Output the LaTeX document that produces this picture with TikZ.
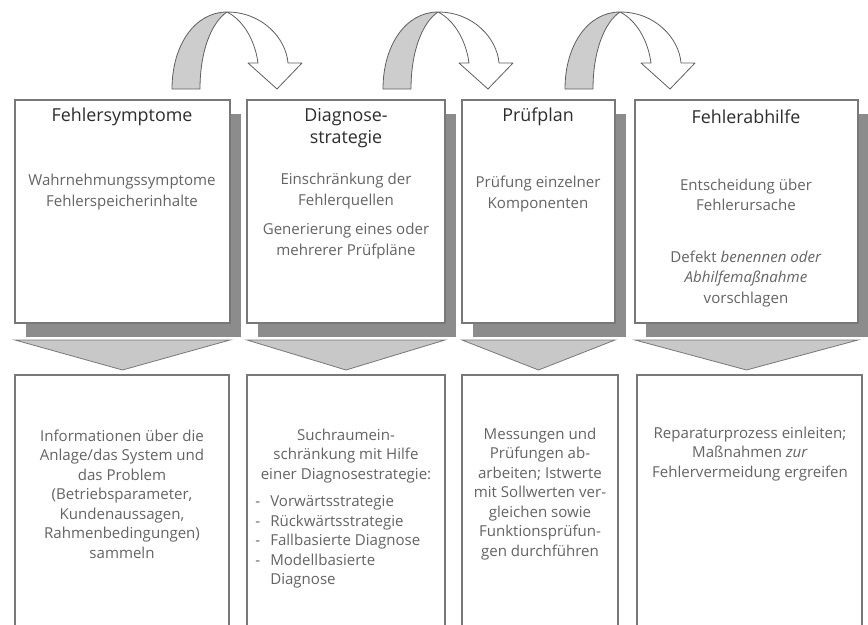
\documentclass[tikz,border=0pt]{standalone}
\usepackage{fontspec}
\setmainfont{Open Sans}
\usetikzlibrary{calc,shadows}

\definecolor{boxline}{RGB}{120,120,120}
\definecolor{shadowgray}{RGB}{140,140,140}
\definecolor{chevronfill}{RGB}{200,200,200}
\definecolor{arrowfill}{RGB}{205,205,205}
\definecolor{arrowline}{RGB}{95,95,95}
\definecolor{headcol}{RGB}{45,45,45}
\definecolor{textcol}{RGB}{100,100,100}

\newcommand{\listdash}{\makebox[11.25pt][l]{-}}

\tikzset{
  stagebox/.style={draw=boxline, fill=white, line width=0.8pt, anchor=north west, inner sep=0pt, outer sep=0pt},
  boxshadow/.style={drop shadow={shadow xshift=8.25pt, shadow yshift=-10.5pt, fill=shadowgray, opacity=1}},
  chevron/.style={draw=boxline, fill=chevronfill, line width=0.6pt},
  bendarrow/.style={draw=arrowline, line width=0.6pt, line join=round},
  headtext/.style={text=headcol, font=\fontsize{13.4}{17}\selectfont, align=center, inner sep=0pt},
  bodytext/.style={text=textcol, font=\fontsize{11.3}{15.5}\selectfont, align=center, inner sep=0pt},
  infotext/.style={text=textcol, font=\fontsize{11.3}{14.6}\selectfont, align=center, inner sep=0pt}
}

\begin{document}
\begin{tikzpicture}[x=0.75pt,y=0.75pt,yscale=-1,xscale=1]
        \path[use as bounding box, clip] (0,0) rectangle (868,625);

        % Bent arrows from stage to stage
        \foreach \dx in {0,211,393}{
          \begin{scope}[shift={(\dx,0)}]
            \draw[bendarrow, fill=arrowfill] (172,89) .. controls (172,45) and (195,12) .. (227,12) .. controls (212,22) and (200,50) .. (200,89) -- cycle;
            \draw[bendarrow, fill=white] (227,12) .. controls (262,12) and (286,38) .. (288,63) -- (302,63) -- (277,89) -- (248,63) -- (258,63) .. controls (255,40) and (243,20) .. (227,12) -- cycle;
          \end{scope}
        }

        % Stages
        \node[stagebox, boxshadow, minimum width=215*0.75pt, minimum height=223*0.75pt] (symptom) at (15,100) {};
        \node[stagebox, boxshadow, minimum width=198*0.75pt, minimum height=223*0.75pt] (strategy) at (247,100) {};
        \node[stagebox, boxshadow, minimum width=153*0.75pt, minimum height=223*0.75pt] (testplan) at (462,100) {};
        \node[stagebox, boxshadow, minimum width=223*0.75pt, minimum height=223*0.75pt] (remedy) at (635,100) {};

        % Chevrons below the stages
        \foreach \s in {symptom,strategy,testplan,remedy}
          \draw[chevron] ($(\s.south west)+(0,17)$) -- ($(\s.south east)+(0,17)$) -- ($(\s.south)+(0,47)$) -- cycle;

        % Activities
        \node[stagebox, minimum width=214*0.75pt, minimum height=265*0.75pt] (symptominfo) at (15,375) {};
        \node[stagebox, minimum width=198*0.75pt, minimum height=265*0.75pt] (strategyinfo) at (247,375) {};
        \node[stagebox, minimum width=156*0.75pt, minimum height=265*0.75pt] (testplaninfo) at (462,375) {};
        \node[stagebox, minimum width=225*0.75pt, minimum height=265*0.75pt] (remedyinfo) at (637,375) {};

        % Text Nodes
        \node[headtext] (symptomhead) at (122,117) {Fehlersymptome};
        \node[bodytext] (symptombody) at (122,192) {Wahrnehmungssymptome\\Fehlerspeicherinhalte};
        \node[headtext] (strategyhead) at (346,128) {Diagnose-\\strategie};
        \node[bodytext] (strategybody) at (346,191) {Einschränkung der\\Fehlerquellen};
        \node[bodytext] (strategybodyb) at (346,241) {Generierung eines oder\\mehrerer Prüfpläne};
        \node[headtext] (testplanhead) at (538,117) {Prüfplan};
        \node[bodytext] (testplanbody) at (538,194) {Prüfung einzelner\\Komponenten};
        \node[headtext] (remedyhead) at (746,117) {Fehlerabhilfe};
        \node[bodytext] (remedybody) at (746,195) {Entscheidung über\\Fehlerursache};
        \node[bodytext] (remedybodyb) at (746,279) {Defekt \textit{benennen oder}\\\textit{Abhilfemaßnahme}\\vorschlagen};

        \node[infotext] (symptomtext) at (122,494) {Informationen über die\\Anlage/das System und\\das Problem\\(Betriebsparameter,\\Kundenaussagen,\\Rahmenbedingungen)\\sammeln};
        \node[infotext] (strategytext) at (346,456) {Suchraumein-\\schränkung mit Hilfe\\einer Diagnosestrategie:};
        \node[infotext, align=left, anchor=west] (strategylist) at (255,542) {\listdash Vorwärtsstrategie\\\listdash Rückwärtsstrategie\\\listdash Fallbasierte Diagnose\\\listdash Modellbasierte\\\hspace*{11.25pt}Diagnose};
        \node[infotext] (testplantext) at (540,494) {Messungen und\\Prüfungen ab-\\arbeiten; Istwerte\\mit Sollwerten ver-\\gleichen sowie\\Funktionsprüfun-\\gen durchführen};
        \node[infotext] (remedytext) at (750,454) {Reparaturprozess einleiten;\\Maßnahmen \textit{zur}\\Fehlervermeidung ergreifen};
\end{tikzpicture}
\end{document}
